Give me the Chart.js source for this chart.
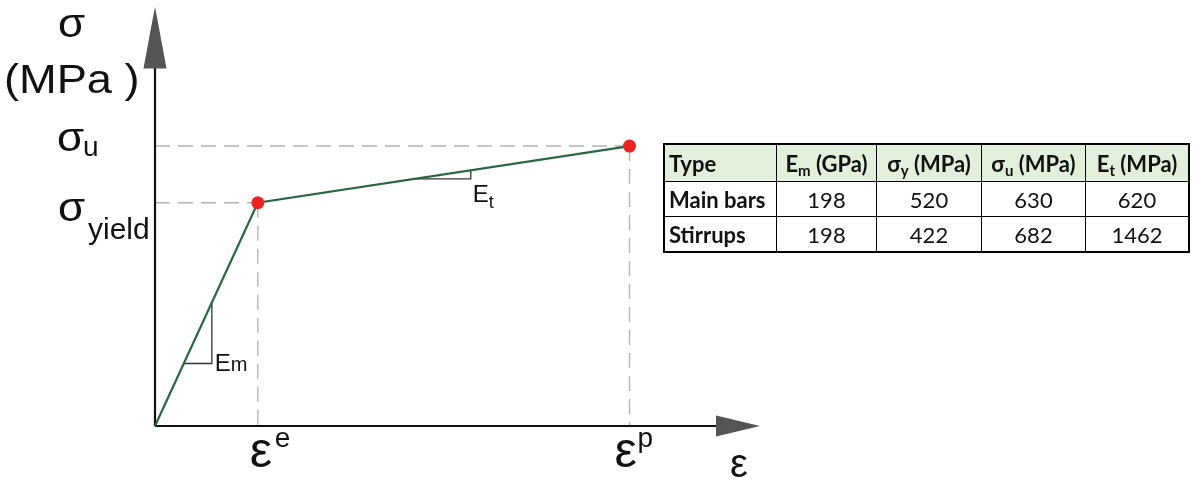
<!DOCTYPE html>
<html lang="en">
<head>
    <meta charset="UTF-8">
    <title>Bilinear stress-strain model</title>
    <script src="https://cdn.jsdelivr.net/npm/chart.js"></script>
    <style>
        body {
            margin: 0;
            padding: 0;
            background: #ffffff;
            width: 1197px;
            height: 483px;
            overflow: hidden;
            position: relative;
        }
        #chartBox {
            position: absolute;
            left: 0;
            top: 0;
            width: 1197px;
            height: 483px;
        }
        /* material table on the right */
        table.props {
            position: absolute;
            left: 663px;
            top: 143px;
            border-collapse: collapse;
            font-family: Lato, "Open Sans", sans-serif;
            font-size: 22px;
            color: #111;
            border: 2px solid #000;
        }
        table.props td, table.props th {
            border: 1.5px solid #000;
            padding: 0;
            text-align: center;
            font-weight: normal;
            white-space: nowrap;
        }
        table.props th { background: #e2efda; font-weight: bold; height: 36px; }
        table.props td { height: 34px; }
        table.props .name { text-align: left; font-weight: bold; padding-left: 4px; }
        table.props sub { font-size: 15px; vertical-align: -4px; line-height: 0; }
    </style>
</head>
<body>
    <div id="chartBox"><canvas id="ssChart" width="1197" height="483"></canvas></div>
    <table class="props" id="propsTable"></table>
    <script>
        // schematic bilinear curve: origin, yield point, ultimate point
        const strain = [0, 0.0026, 0.012];
        const stress = [0, 520, 652];
        const pointSize = [0, 6.5, 6.5];

        // axis extent (arrow tips)
        const strainMax = 0.0153;
        const stressMax = 977;

        // labels on the axes
        const yTickMain = ['σ', 'σ'];
        const yTickSub = ['yield', 'u'];
        const xTickMain = ['ε', 'ε'];
        const xTickSup = ['e', 'p'];

        // table contents
        const tableHeader = ['Type', 'E<sub>m</sub> (GPa)', 'σ<sub>y</sub> (MPa)', 'σ<sub>u</sub> (MPa)', 'E<sub>t</sub> (MPa)'];
        const tableTypes = ['Main bars', 'Stirrups'];
        const colEm = [198, 198];
        const colSy = [520, 422];
        const colSu = [630, 682];
        const colEt = [620, 1462];
        const colWidths = [113, 101, 106, 105, 104];

        // build the table
        const tbl = document.getElementById('propsTable');
        let html = '<tr>' + tableHeader.map((h, i) =>
            `<th style="width:${colWidths[i] - (i === 0 ? 6 : 2)}px;${i === 0 ? 'text-align:left;padding-left:4px' : ''}">${h}</th>`).join('') + '</tr>';
        tableTypes.forEach((t, i) => {
            html += `<tr><td class="name">${t}</td><td>${colEm[i]}</td><td>${colSy[i]}</td><td>${colSu[i]}</td><td>${colEt[i]}</td></tr>`;
        });
        tbl.innerHTML = html;

        const FONT = '"Liberation Sans", Arial, sans-serif';

        // text widened a little horizontally
        function wideText(c, text, x, y, sx) {
            c.save();
            c.translate(x, y);
            c.scale(sx, 1);
            c.fillText(text, 0, 0);
            c.restore();
        }

        // draws axes, arrows, dashed guides, slope triangles and labels
        const diagramPlugin = {
            id: 'diagram',
            beforeDatasetsDraw(chart) {
                const ctx = chart.ctx;
                const xs = chart.scales.x, ys = chart.scales.y;
                const x0 = xs.getPixelForValue(0), y0 = ys.getPixelForValue(0);
                ctx.save();
                // dashed guides to yield and ultimate points
                ctx.strokeStyle = '#b4b4b4';
                ctx.lineWidth = 1.4;
                ctx.setLineDash([15, 8]);
                for (let i = 1; i < strain.length; i++) {
                    const px = xs.getPixelForValue(strain[i]);
                    const py = ys.getPixelForValue(stress[i]);
                    ctx.beginPath();
                    ctx.moveTo(x0, py);
                    ctx.lineTo(px, py);
                    ctx.moveTo(px, py);
                    ctx.lineTo(px, y0);
                    ctx.stroke();
                }
                ctx.setLineDash([]);

                // slope triangles
                ctx.strokeStyle = '#333';
                ctx.lineWidth = 1.3;
                const tri = (i, t1, t2) => {
                    const ex = strain[i + 1] - strain[i], ey = stress[i + 1] - stress[i];
                    const ax = xs.getPixelForValue(strain[i] + t1 * ex);
                    const ay = ys.getPixelForValue(stress[i] + t1 * ey);
                    const bx = xs.getPixelForValue(strain[i] + t2 * ex);
                    const by = ys.getPixelForValue(stress[i] + t2 * ey);
                    ctx.beginPath();
                    ctx.moveTo(ax, ay);
                    ctx.lineTo(bx, ay);
                    ctx.lineTo(bx, by);
                    ctx.stroke();
                    return [bx, ay];
                };
                const em = tri(0, 0.28, 0.553);
                const et = tri(1, 0.42, 0.573);

                // axes
                const xEnd = xs.getPixelForValue(strainMax);
                const yEnd = ys.getPixelForValue(stressMax);
                ctx.strokeStyle = '#111';
                ctx.lineWidth = 2.2;
                ctx.beginPath();
                ctx.moveTo(x0, y0);
                ctx.lineTo(xEnd - 40, y0);
                ctx.moveTo(x0, y0);
                ctx.lineTo(x0, yEnd + 60);
                ctx.stroke();
                ctx.fillStyle = '#555';
                ctx.beginPath();
                ctx.moveTo(xEnd, y0);
                ctx.lineTo(xEnd - 44, y0 - 10.5);
                ctx.lineTo(xEnd - 44, y0 + 10.5);
                ctx.closePath();
                ctx.fill();
                ctx.beginPath();
                ctx.moveTo(x0, yEnd);
                ctx.lineTo(x0 - 11.5, yEnd + 62);
                ctx.lineTo(x0 + 11.5, yEnd + 62);
                ctx.closePath();
                ctx.fill();

                // labels
                ctx.fillStyle = '#111';
                ctx.textBaseline = 'alphabetic';
                ctx.textAlign = 'left';
                ctx.font = '40px ' + FONT;
                wideText(ctx, 'σ', 58, 37, 1.1);
                wideText(ctx, '(MPa )', 4, 93, 1.13);

                // y axis marks: yield then ultimate
                const ySub = [[58, 18, 88, 36, 30], [57, 5, 83, 10, 28]];
                for (let i = 0; i < yTickMain.length; i++) {
                    const py = ys.getPixelForValue(stress[i + 1]);
                    const o = ySub[i];
                    ctx.font = '40px ' + FONT;
                    wideText(ctx, yTickMain[i], o[0], py + o[1], 1.1);
                    ctx.font = o[4] + 'px ' + FONT;
                    ctx.fillText(yTickSub[i], o[2], py + o[3]);
                }
                // x axis marks
                const xOff = [[-8, 17], [-15, 8]];
                for (let i = 0; i < xTickMain.length; i++) {
                    const px = xs.getPixelForValue(strain[i + 1]);
                    ctx.font = '50px ' + FONT;
                    ctx.fillText(xTickMain[i], px + xOff[i][0], y0 + 41);
                    ctx.font = '28px ' + FONT;
                    ctx.fillText(xTickSup[i], px + xOff[i][1], y0 + 21);
                }
                ctx.font = '40px ' + FONT;
                ctx.fillText('ε', xEnd - 30, y0 + 51);

                // slope labels
                ctx.font = '24px ' + FONT;
                ctx.fillText('E', em[0] + 3, em[1] + 8);
                ctx.font = '20px ' + FONT;
                ctx.fillText('m', em[0] + 19, em[1] + 8);
                ctx.font = '24px ' + FONT;
                ctx.fillText('E', et[0] + 2, et[1] + 23);
                ctx.font = '18px ' + FONT;
                ctx.fillText('t', et[0] + 18, et[1] + 29);
                ctx.restore();
            }
        };

        const ctx = document.getElementById('ssChart').getContext('2d');
        const chart = new Chart(ctx, {
            type: 'scatter',
            data: {
                datasets: [{
                    data: strain.map((e, i) => ({ x: e, y: stress[i] })),
                    showLine: true,
                    borderColor: '#2b6642',
                    borderWidth: 2.2,
                    pointRadius: pointSize,
                    pointHoverRadius: pointSize,
                    pointBackgroundColor: '#ee2222',
                    pointBorderWidth: 0,
                    tension: 0
                }]
            },
            options: {
                responsive: false,
                animation: false,
                layout: { padding: { left: 155, right: 437, top: 5, bottom: 57 } },
                plugins: { legend: { display: false }, tooltip: { enabled: false } },
                scales: {
                    x: { type: 'linear', display: false, min: 0, max: strainMax },
                    y: { type: 'linear', display: false, min: 0, max: stressMax }
                }
            },
            plugins: [diagramPlugin]
        });
    </script>
</body>
</html>
